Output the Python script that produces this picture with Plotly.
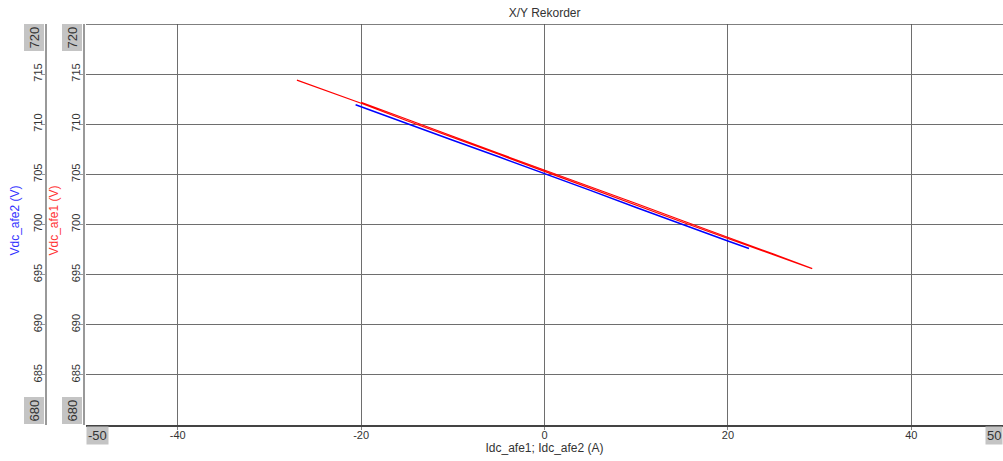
import plotly.graph_objects as go

# Recorded operating points: DC current (A) vs. DC link voltage (V)
idc_afe1 = [-27.0, -20.0, -15.0, -10.0, -5.0, 0.0, 5.0, 10.0, 15.0, 20.0, 25.0, 29.2,
            25.0, 20.0, 15.0, 10.0, 5.0, 0.0, -5.0, -10.0, -15.0, -20.0]
vdc_afe1 = [714.4, 712.1, 710.35, 708.7, 707.0, 705.3, 703.6, 701.95, 700.25, 698.6, 696.95, 695.6,
            697.05, 698.7, 700.4, 702.1, 703.75, 705.45, 707.1, 708.8, 710.5, 712.2]

idc_afe2 = [-20.6, -15.0, -10.0, -5.0, 0.0, 5.0, 10.0, 15.0, 20.0, 22.3]
vdc_afe2 = [711.95, 710.05, 708.4, 706.75, 705.1, 703.4, 701.7, 700.0, 698.35, 697.6]

x_ticks = [-40, -20, 0, 20, 40]
x_tick_text = ["-40", "-20", "0", "20", "40"]
y_ticks = [685, 690, 695, 700, 705, 710, 715]
x_range = [-50, 50]
y_range = [680, 720]

W, H = 1003, 461
plot_left = 86
inner_axis_x = 84
outer_axis_x = 46

FAMILY = "Liberation Sans, Arial, sans-serif"
font = dict(family=FAMILY, size=11, color="#333333")

fig = go.Figure()
fig.add_trace(go.Scatter(x=idc_afe2, y=vdc_afe2, mode="lines", yaxis="y2",
                         line=dict(color="#0000ff", width=1.5), name="Vdc_afe2"))
fig.add_trace(go.Scatter(x=idc_afe1, y=vdc_afe1, mode="lines",
                         line=dict(color="#ff0000", width=1.1), name="Vdc_afe1"))

axis_common = dict(range=y_range, tickvals=y_ticks, tickangle=-90, tickfont=font,
                   showline=True, linecolor="#999999", linewidth=1.5,
                   ticks="outside", ticklen=3, tickcolor="#999999", zeroline=False,
                   ticklabelstandoff=-4)

fig.update_layout(
    width=W, height=H,
    margin=dict(l=0, r=0, t=24, b=36),
    plot_bgcolor="white", paper_bgcolor="white",
    showlegend=False,
    title=dict(text="X/Y Rekorder", x=0.543, xanchor="center", y=0.982, yanchor="top",
               font=dict(family=FAMILY, size=12, color="#333333")),
    xaxis=dict(domain=[plot_left / W, 1], range=x_range, tickvals=x_ticks, ticktext=x_tick_text,
               tickfont=font, showgrid=True, gridcolor="#6e6e6e", gridwidth=1,
               showline=True, linecolor="#444444", linewidth=1.5, mirror=False,
               ticks="outside", ticklen=3, tickcolor="#888888", zeroline=False,
               ticklabelstandoff=-4,
               title=dict(text="Idc_afe1; Idc_afe2 (A)", standoff=0,
                          font=dict(family=FAMILY, size=12, color="#333333"))),
    yaxis=dict(**axis_common, showgrid=True, gridcolor="#6e6e6e", gridwidth=1,
               anchor="free", position=inner_axis_x / W),
    yaxis2=dict(**axis_common, showgrid=False, overlaying="y",
                anchor="free", position=outer_axis_x / W),
)

# top border of the plotting area
fig.add_shape(type="line", xref="paper", yref="y", x0=plot_left / W, x1=1, y0=720, y1=720,
              line=dict(color="#555555", width=1.5))

annots = []
# range end labels with grey boxes
for xp in (outer_axis_x, inner_axis_x):
    for val, yanc in ((y_range[1], "top"), (y_range[0], "bottom")):
        annots.append(dict(text=str(val), xref="paper", yref="y", x=(xp - 2) / W, y=val,
                           xanchor="right", yanchor=yanc, showarrow=False, textangle=-90,
                           bgcolor="#c4c4c4", borderpad=2,
                           font=dict(family=FAMILY, size=13, color="#333333")))
annots.append(dict(text="-50", xref="paper", yref="paper", x=plot_left / W, y=0, xanchor="left",
                   yanchor="top", yshift=-1, showarrow=False, bgcolor="#c4c4c4", borderpad=1,
                   font=dict(family=FAMILY, size=13, color="#333333")))
annots.append(dict(text="50", xref="paper", yref="paper", x=1, y=0, xanchor="right",
                   yanchor="top", yshift=-1, showarrow=False, bgcolor="#c4c4c4", borderpad=1,
                   font=dict(family=FAMILY, size=13, color="#333333")))
# y axis titles
annots.append(dict(text="Vdc_afe2 (V)", xref="paper", yref="y", x=15 / W, y=700.4,
                   xanchor="center", yanchor="middle", showarrow=False, textangle=-90,
                   font=dict(family=FAMILY, size=12, color="#3333ff")))
annots.append(dict(text="Vdc_afe1 (V)", xref="paper", yref="y", x=54 / W, y=700.4,
                   xanchor="center", yanchor="middle", showarrow=False, textangle=-90,
                   font=dict(family=FAMILY, size=12, color="#ff3333")))
fig.update_layout(annotations=annots)

fig.write_html("out.html")
